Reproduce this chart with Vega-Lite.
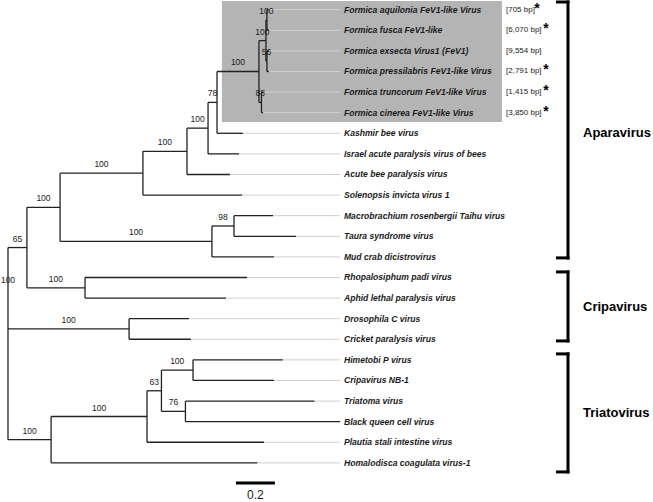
{
  "$schema": "https://vega.github.io/schema/vega-lite/v6.json",
  "width": 653,
  "height": 502,
  "autosize": {"type": "none"},
  "padding": 0,
  "background": "white",
  "config": {"view": {"stroke": null}, "text": {"font": "Liberation Sans"}},
  "datasets": {
    "box": [{"x1": 1.097, "x2": 2.533, "y1": -0.42, "y2": 5.45}],
    "tips": [
      {"row": 0, "name": "Formica aquilonia FeV1-like Virus", "px": 1.328, "x": 1.336, "bp": "[705 bp]", "sx": 2.713},
      {"row": 1, "name": "Formica fusca FeV1-like", "px": 1.328, "x": 1.336, "bp": "[6,070 bp]", "sx": 2.759},
      {"row": 2, "name": "Formica exsecta Virus1 (FeV1)", "px": 1.328, "x": 1.338, "bp": "[9,554 bp]", "sx": null},
      {"row": 3, "name": "Formica pressilabris FeV1-like Virus", "px": 1.328, "x": 1.338, "bp": "[2,791 bp]", "sx": 2.759},
      {"row": 4, "name": "Formica truncorum FeV1-like Virus", "px": 1.300, "x": 1.308, "bp": "[1,415 bp]", "sx": 2.759},
      {"row": 5, "name": "Formica cinerea FeV1-like Virus", "px": 1.300, "x": 1.308, "bp": "[3,850 bp]", "sx": 2.759},
      {"row": 6, "name": "Kashmir bee virus", "px": 1.072, "x": 1.205, "bp": null, "sx": null},
      {"row": 7, "name": "Israel acute paralysis virus of bees", "px": 1.026, "x": 1.185, "bp": null, "sx": null},
      {"row": 8, "name": "Acute bee paralysis virus", "px": 0.918, "x": 1.138, "bp": null, "sx": null},
      {"row": 9, "name": "Solenopsis invicta virus 1", "px": 0.692, "x": 1.200, "bp": null, "sx": null},
      {"row": 10, "name": "Macrobrachium rosenbergii Taihu virus", "px": 1.159, "x": 1.359, "bp": null, "sx": null},
      {"row": 11, "name": "Taura syndrome virus", "px": 1.159, "x": 1.477, "bp": null, "sx": null},
      {"row": 12, "name": "Mud crab dicistrovirus", "px": 1.046, "x": 1.364, "bp": null, "sx": null},
      {"row": 13, "name": "Rhopalosiphum padi virus", "px": 0.395, "x": 1.226, "bp": null, "sx": null},
      {"row": 14, "name": "Aphid lethal paralysis virus", "px": 0.395, "x": 1.118, "bp": null, "sx": null},
      {"row": 15, "name": "Drosophila C virus", "px": 0.621, "x": 0.928, "bp": null, "sx": null},
      {"row": 16, "name": "Cricket paralysis virus", "px": 0.621, "x": 0.938, "bp": null, "sx": null},
      {"row": 17, "name": "Himetobi P virus", "px": 0.949, "x": 1.410, "bp": null, "sx": null},
      {"row": 18, "name": "Cripavirus NB-1", "px": 0.949, "x": 1.364, "bp": null, "sx": null},
      {"row": 19, "name": "Triatoma virus", "px": 0.910, "x": 1.572, "bp": null, "sx": null},
      {"row": 20, "name": "Black queen cell virus", "px": 0.910, "x": 1.703, "bp": null, "sx": null},
      {"row": 21, "name": "Plautia stali intestine virus", "px": 0.713, "x": 1.313, "bp": null, "sx": null},
      {"row": 22, "name": "Homalodisca coagulata virus-1", "px": 0.221, "x": 1.279, "bp": null, "sx": null}
    ],
    "nodes": [
      {"id": "A", "x": 1.328, "px": 1.323, "y": 0.5, "ymin": 0, "ymax": 1, "support": "100"},
      {"id": "B", "x": 1.328, "px": 1.323, "y": 2.5, "ymin": 2, "ymax": 3, "support": "56"},
      {"id": "G", "x": 1.323, "px": 1.287, "y": 1.5, "ymin": 0.5, "ymax": 2.5, "support": "100"},
      {"id": "H", "x": 1.300, "px": 1.287, "y": 4.5, "ymin": 4, "ymax": 5, "support": "88"},
      {"id": "F", "x": 1.287, "px": 1.072, "y": 3.0, "ymin": 1.5, "ymax": 4.5, "support": "100"},
      {"id": "N78", "x": 1.072, "px": 1.026, "y": 4.5, "ymin": 3, "ymax": 6, "support": "78"},
      {"id": "N208", "x": 1.026, "px": 0.918, "y": 5.75, "ymin": 4.5, "ymax": 7, "support": "100"},
      {"id": "N187", "x": 0.918, "px": 0.692, "y": 6.875, "ymin": 5.75, "ymax": 8, "support": "100"},
      {"id": "N143", "x": 0.692, "px": 0.267, "y": 7.9375, "ymin": 6.875, "ymax": 9, "support": "100"},
      {"id": "N98", "x": 1.159, "px": 1.046, "y": 10.5, "ymin": 10, "ymax": 11, "support": "98"},
      {"id": "NM", "x": 1.046, "px": 0.267, "y": 11.25, "ymin": 10.5, "ymax": 12, "support": "100"},
      {"id": "N60", "x": 0.267, "px": 0.097, "y": 9.594, "ymin": 7.9375, "ymax": 11.25, "support": "100"},
      {"id": "NR", "x": 0.395, "px": 0.097, "y": 13.5, "ymin": 13, "ymax": 14, "support": "100"},
      {"id": "N65", "x": 0.097, "px": 0, "y": 11.547, "ymin": 9.594, "ymax": 13.5, "support": "65"},
      {"id": "ND", "x": 0.621, "px": 0, "y": 15.5, "ymin": 15, "ymax": 16, "support": "100"},
      {"id": "NT", "x": 0.949, "px": 0.787, "y": 17.5, "ymin": 17, "ymax": 18, "support": "100"},
      {"id": "N76", "x": 0.910, "px": 0.787, "y": 19.5, "ymin": 19, "ymax": 20, "support": "76"},
      {"id": "N162", "x": 0.787, "px": 0.713, "y": 18.5, "ymin": 17.5, "ymax": 19.5, "support": "63"},
      {"id": "N63", "x": 0.713, "px": 0.221, "y": 19.75, "ymin": 18.5, "ymax": 21, "support": "100"},
      {"id": "N51", "x": 0.221, "px": 0, "y": 20.875, "ymin": 19.75, "ymax": 22, "support": "100"},
      {"id": "root", "x": 0, "px": 0, "y": 13.56, "ymin": 11.547, "ymax": 20.875, "support": "100"}
    ],
    "clades": [
      {"clade": "Aparavirus", "top": -0.374, "bottom": 12.05, "ly": 5.99},
      {"clade": "Cripavirus", "top": 12.73, "bottom": 16.08, "ly": 14.43},
      {"clade": "Triatovirus", "top": 16.71, "bottom": 22.44, "ly": 19.58}
    ],
    "scalebar": [{"x1": 1.169, "x2": 1.369, "y": 22.98, "ty": 23.56, "label": "0.2"}]
  },
  "layer": [
    {
      "data": {"name": "box"},
      "mark": {"type": "rect", "color": "#b4b4b4"},
      "encoding": {
        "x": {"field": "x1", "type": "quantitative", "scale": {"domain": [-0.041, 3.308], "nice": false, "zero": false}, "axis": null},
        "x2": {"field": "x2"},
        "y": {"field": "y1", "type": "quantitative", "scale": {"domain": [-0.471, 23.9], "nice": false, "zero": false, "reverse": true}, "axis": null},
        "y2": {"field": "y2"}
      }
    },
    {
      "data": {"name": "tips"},
      "mark": {"type": "rule", "color": "#d0d0d0", "strokeWidth": 1},
      "encoding": {
        "x": {"field": "x", "type": "quantitative", "scale": {"domain": [-0.041, 3.308], "nice": false, "zero": false}, "axis": null},
        "x2": {"datum": 1.703},
        "y": {"field": "row", "type": "quantitative", "scale": {"domain": [-0.471, 23.9], "nice": false, "zero": false, "reverse": true}, "axis": null}
      }
    },
    {
      "data": {"name": "tips"},
      "mark": {"type": "rule", "color": "#222222", "strokeWidth": 1.3},
      "encoding": {
        "x": {"field": "px", "type": "quantitative", "scale": {"domain": [-0.041, 3.308], "nice": false, "zero": false}, "axis": null},
        "x2": {"field": "x"},
        "y": {"field": "row", "type": "quantitative", "scale": {"domain": [-0.471, 23.9], "nice": false, "zero": false, "reverse": true}, "axis": null}
      }
    },
    {
      "data": {"name": "nodes"},
      "mark": {"type": "rule", "color": "#222222", "strokeWidth": 1.3},
      "encoding": {
        "x": {"field": "px", "type": "quantitative", "scale": {"domain": [-0.041, 3.308], "nice": false, "zero": false}, "axis": null},
        "x2": {"field": "x"},
        "y": {"field": "y", "type": "quantitative", "scale": {"domain": [-0.471, 23.9], "nice": false, "zero": false, "reverse": true}, "axis": null}
      }
    },
    {
      "data": {"name": "nodes"},
      "mark": {"type": "rule", "color": "#222222", "strokeWidth": 1.3},
      "encoding": {
        "x": {"field": "x", "type": "quantitative", "scale": {"domain": [-0.041, 3.308], "nice": false, "zero": false}, "axis": null},
        "y": {"field": "ymin", "type": "quantitative", "scale": {"domain": [-0.471, 23.9], "nice": false, "zero": false, "reverse": true}, "axis": null},
        "y2": {"field": "ymax"}
      }
    },
    {
      "data": {"name": "nodes"},
      "transform": [{"calculate": "(datum.px + datum.x) / 2", "as": "mid"}],
      "mark": {"type": "text", "fontSize": 8.5, "color": "#1a1a1a", "align": "center", "baseline": "middle", "dy": -9},
      "encoding": {
        "x": {"field": "mid", "type": "quantitative", "scale": {"domain": [-0.041, 3.308], "nice": false, "zero": false}, "axis": null},
        "y": {"field": "y", "type": "quantitative", "scale": {"domain": [-0.471, 23.9], "nice": false, "zero": false, "reverse": true}, "axis": null},
        "text": {"field": "support"}
      }
    },
    {
      "data": {"name": "tips"},
      "mark": {"type": "text", "fontSize": 8.6, "fontStyle": "italic", "fontWeight": "bold", "color": "#1a1a1a", "align": "left", "baseline": "middle"},
      "encoding": {
        "x": {"datum": 1.723, "type": "quantitative", "scale": {"domain": [-0.041, 3.308], "nice": false, "zero": false}, "axis": null},
        "y": {"field": "row", "type": "quantitative", "scale": {"domain": [-0.471, 23.9], "nice": false, "zero": false, "reverse": true}, "axis": null},
        "text": {"field": "name"}
      }
    },
    {
      "data": {"name": "tips"},
      "transform": [{"filter": "datum.bp != null"}],
      "mark": {"type": "text", "fontSize": 8, "color": "#1a1a1a", "align": "left", "baseline": "middle"},
      "encoding": {
        "x": {"datum": 2.554, "type": "quantitative", "scale": {"domain": [-0.041, 3.308], "nice": false, "zero": false}, "axis": null},
        "y": {"field": "row", "type": "quantitative", "scale": {"domain": [-0.471, 23.9], "nice": false, "zero": false, "reverse": true}, "axis": null},
        "text": {"field": "bp"}
      }
    },
    {
      "data": {"name": "tips"},
      "transform": [{"filter": "datum.sx != null"}],
      "mark": {"type": "text", "fontSize": 14, "fontWeight": "bold", "color": "#000000", "align": "center", "baseline": "middle", "dy": -1, "text": "*"},
      "encoding": {
        "x": {"field": "sx", "type": "quantitative", "scale": {"domain": [-0.041, 3.308], "nice": false, "zero": false}, "axis": null},
        "y": {"field": "row", "type": "quantitative", "scale": {"domain": [-0.471, 23.9], "nice": false, "zero": false, "reverse": true}, "axis": null}
      }
    },
    {
      "data": {"name": "clades"},
      "mark": {"type": "rule", "color": "#000000", "strokeWidth": 3, "strokeCap": "square"},
      "encoding": {
        "x": {"datum": 2.872, "type": "quantitative", "scale": {"domain": [-0.041, 3.308], "nice": false, "zero": false}, "axis": null},
        "y": {"field": "top", "type": "quantitative", "scale": {"domain": [-0.471, 23.9], "nice": false, "zero": false, "reverse": true}, "axis": null},
        "y2": {"field": "bottom"}
      }
    },
    {
      "data": {"name": "clades"},
      "transform": [{"fold": ["top", "bottom"], "as": ["end", "yy"]}],
      "mark": {"type": "rule", "color": "#000000", "strokeWidth": 3, "strokeCap": "square"},
      "encoding": {
        "x": {"datum": 2.818, "type": "quantitative", "scale": {"domain": [-0.041, 3.308], "nice": false, "zero": false}, "axis": null},
        "x2": {"datum": 2.872},
        "y": {"field": "yy", "type": "quantitative", "scale": {"domain": [-0.471, 23.9], "nice": false, "zero": false, "reverse": true}, "axis": null}
      }
    },
    {
      "data": {"name": "clades"},
      "mark": {"type": "text", "fontSize": 13, "fontWeight": "bold", "color": "#000000", "align": "left", "baseline": "middle"},
      "encoding": {
        "x": {"datum": 2.949, "type": "quantitative", "scale": {"domain": [-0.041, 3.308], "nice": false, "zero": false}, "axis": null},
        "y": {"field": "ly", "type": "quantitative", "scale": {"domain": [-0.471, 23.9], "nice": false, "zero": false, "reverse": true}, "axis": null},
        "text": {"field": "clade"}
      }
    },
    {
      "data": {"name": "scalebar"},
      "mark": {"type": "rule", "color": "#000000", "strokeWidth": 3},
      "encoding": {
        "x": {"field": "x1", "type": "quantitative", "scale": {"domain": [-0.041, 3.308], "nice": false, "zero": false}, "axis": null},
        "x2": {"field": "x2"},
        "y": {"field": "y", "type": "quantitative", "scale": {"domain": [-0.471, 23.9], "nice": false, "zero": false, "reverse": true}, "axis": null}
      }
    },
    {
      "data": {"name": "scalebar"},
      "transform": [{"calculate": "(datum.x1 + datum.x2) / 2", "as": "mid"}],
      "mark": {"type": "text", "fontSize": 12, "color": "#1a1a1a", "align": "center", "baseline": "middle"},
      "encoding": {
        "x": {"field": "mid", "type": "quantitative", "scale": {"domain": [-0.041, 3.308], "nice": false, "zero": false}, "axis": null},
        "y": {"field": "ty", "type": "quantitative", "scale": {"domain": [-0.471, 23.9], "nice": false, "zero": false, "reverse": true}, "axis": null},
        "text": {"field": "label"}
      }
    }
  ]
}
